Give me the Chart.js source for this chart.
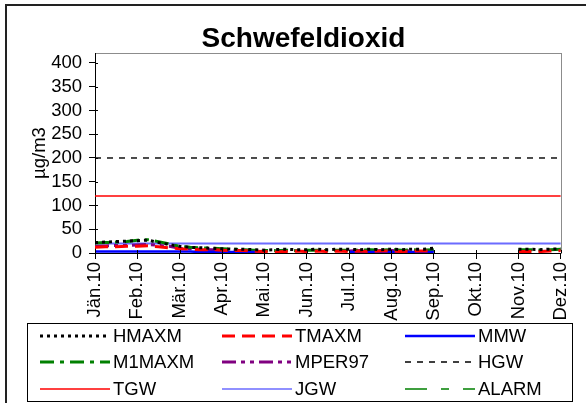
<!DOCTYPE html>
<html>
<head>
<meta charset="utf-8">
<script src="https://cdn.jsdelivr.net/npm/chart.js@4"></script>
<style>
  html, body { margin: 0; padding: 0; background: #fff; }
  #wrap { width: 586px; height: 403px; }
</style>
</head>
<body>
<div id="wrap"><canvas id="chart" width="586" height="403"></canvas></div>
<script>
// Schwefeldioxid 2010, Wochenwerte in µg/m3

const months = ['Jän.10', 'Feb.10', 'Mär.10', 'Apr.10', 'Mai.10', 'Jun.10', 'Jul.10', 'Aug.10', 'Sep.10', 'Okt.10', 'Nov.10', 'Dez.10']
const yTicks = [0, 50, 100, 150, 200, 250, 300, 350, 400]

// one value per week (4 per month), Jän.10 .. Dez.10
const hmaxm  = [22, 23, 24, 25,  26, 27, 22, 18,  14, 12, 11, 10,  9, 8, 8, 7,  6, 7, 8, 7,  7, 8, 7, 8,  8, 7, 8, 7,  8, 7, 8, 8,  10, null, null, null,  null, null, null, null,  8, 8, 7, 8,  9]
const tmaxm  = [12, 13, 13, 14,  14, 15, 13, 11,  9, 8, 7, 7,  6, 5, 5, 4,  3, 2, 3, 4,  3, 4, 3, 4,  3, 4, 3, 4,  4, 3, 4, 4,  4, null, null, null,  null, null, null, null,  3, 3, 3, 4,  5]
const mmw    = [3, 3, 3, 3,  3, 3, 3, 3,  3, 3, 2, 2,  2, 2, 2, 2,  2, null, null, null,  null, null, null, null,  2, 2, 2, 2,  2, 2, 2, 2,  2, null, null, null,  null, null, null, null,  null, null, null, null,  null]
const m1maxm = [21, 22, 23, 24,  27, 28, 24, 19,  14, 12, 11, 10,  9, 8, 7, 6,  5, 5, 6, 5,  6, 6, 5, 6,  6, 6, 7, 6,  7, 6, 7, 6,  7, null, null, null,  null, null, null, null,  7, 7, 6, 7,  8]
const mper97 = [14, 15, 16, 16,  17, 18, 16, 14,  10, 9, 8, 7,  6, 6, 5, 5,  4, null, null, null,  null, null, null, null,  4, 5, 4, 5,  5, 4, 5, 4,  5, null, null, null,  null, null, null, null,  null, null, null, null,  null]

// Grenzwerte
const HGW   = 200
const TGW   = 120
const JGW   = 20
const ALARM = 500

const FONT = "'Liberation Sans', Arial, sans-serif"

const toPoints = (values) => values.map((v, i) => ({ x : i / 4, y : v }))
const flat     = (value) => [{ x : 0, y : value }, { x : months.length - 1, y : value }]

const series = (label, data, color, width, dash, legendWidth = width) => ({
	label           : label,
	data            : data,
	borderColor     : color,
	backgroundColor : color,
	borderWidth     : width,
	borderDash      : dash,
	legendWidth     : legendWidth,
	pointRadius     : 0,
	spanGaps        : false,
	fill            : false,
	tension         : 0,
})

const datasets = [
	series('HMAXM',  toPoints(hmaxm),  '#000000', 3,   [3, 4]),
	series('TMAXM',  toPoints(tmaxm),  '#ff0000', 3,   [13, 7]),
	series('MMW',    toPoints(mmw),    '#0000ff', 2.5, []),
	series('M1MAXM', toPoints(m1maxm), '#008000', 3,   [14, 6, 4, 6]),
	series('MPER97', toPoints(mper97), '#800080', 3,   [14, 5, 4, 5, 4, 5]),
	series('HGW',    flat(HGW),        '#000000', 1.4, [6, 6], 1.5),
	series('TGW',    flat(TGW),        '#ff0000', 1.4, [], 1.5),
	series('JGW',    flat(JGW),        '#6b6bff', 2,   [], 1.5),
	series('ALARM',  flat(ALARM),      '#008000', 1,   [22, 14, 8, 14], 1.5),
]

// frame, background and grey plot border
const framePlugin = {
	id : 'frame',
	beforeDraw : (chart) => {
		const { ctx, chartArea : a } = chart
		ctx.save()
		ctx.fillStyle = '#fff'
		ctx.fillRect(0, 0, chart.width, chart.height)
		ctx.strokeStyle = '#222'
		ctx.lineWidth   = 2
		ctx.strokeRect(6, 5, chart.width + 10, chart.height + 10)
		ctx.strokeStyle = '#8c8c8c'
		ctx.lineWidth   = 1
		ctx.strokeRect(Math.round(a.left) + 0.5, Math.round(a.top) + 0.5, Math.round(a.right - a.left), Math.round(a.bottom - a.top))
		ctx.restore()
	},
	// short inner part of the tick marks, like the Excel axes
	afterDraw : (chart) => {
		const { ctx, chartArea : a, scales } = chart
		ctx.save()
		ctx.strokeStyle = '#000'
		ctx.lineWidth   = 1
		ctx.beginPath()
		scales.y.ticks.forEach((t) => {
			const py = Math.round(scales.y.getPixelForValue(t.value)) + 0.5
			ctx.moveTo(a.left, py)
			ctx.lineTo(a.left + 3, py)
		})
		scales.x.ticks.forEach((t) => {
			const px = Math.round(scales.x.getPixelForValue(t.value)) + 0.5
			ctx.moveTo(px, a.bottom)
			ctx.lineTo(px, a.bottom - 3)
		})
		ctx.stroke()
		ctx.restore()
	},
}

// Excel-like legend box: 3 columns, 3 rows
const legendPlugin = {
	id : 'boxLegend',
	afterDraw : (chart) => {
		const { ctx } = chart
		const colX  = [40, 222, 405]
		const rowY  = [336, 362, 389]
		ctx.save()
		ctx.strokeStyle = '#000'
		ctx.lineWidth   = 1
		ctx.strokeRect(27.5, 323.5, 545, 78)
		ctx.font         = `18.5px ${FONT}`
		ctx.textBaseline = 'middle'
		ctx.fillStyle    = '#000'
		chart.data.datasets.forEach((ds, i) => {
			const x = colX[i % 3]
			const y = rowY[Math.floor(i / 3)]
			ctx.save()
			ctx.strokeStyle = ds.borderColor
			ctx.lineWidth   = ds.legendWidth
			ctx.setLineDash(ds.borderDash)
			ctx.beginPath()
			ctx.moveTo(x, y)
			ctx.lineTo(x + 70, y)
			ctx.stroke()
			ctx.restore()
			ctx.fillText(ds.label, x + 73, y + 1)
		})
		ctx.restore()
	},
}

new Chart(document.getElementById('chart'), {
	type    : 'line',
	data    : { datasets : datasets },
	plugins : [framePlugin, legendPlugin],
	options : {
		responsive : false,
		animation  : false,
		layout     : { padding : { left : 27, right : 6, top : 0, bottom : 80 } },
		plugins    : {
			legend  : { display : false },
			tooltip : { enabled : false },
			title   : {
				display : true,
				text    : 'Schwefeldioxid',
				color   : '#000',
				font    : { family : FONT, size : 28, weight : 'bold', lineHeight : 1 },
				padding : { top : 25, bottom : 0 },
			},
		},
		scales : {
			x : {
				type  : 'linear',
				min   : 0,
				max   : months.length - 1,
				afterBuildTicks : (scale) => { scale.ticks = months.map((m, i) => ({ value : i })) },
				afterFit : (scale) => { scale.height = 70 },
				ticks : {
					autoSkip    : false,
					minRotation : 90,
					maxRotation : 90,
					padding     : 3,
					color       : '#000',
					font        : { family : FONT, size : 18.5 },
					callback    : (v) => months[v],
				},
				grid   : { drawOnChartArea : false, tickLength : 6, color : '#000' },
				border : { color : '#000', width : 1 },
			},
			y : {
				min : 0,
				max : 421,
				afterBuildTicks : (scale) => { scale.ticks = yTicks.map((v) => ({ value : v })) },
				afterFit : (scale) => { scale.width = 68 },
				ticks : {
					autoSkip : false,
					padding  : 7,
					color    : '#000',
					font     : { family : FONT, size : 18.5 },
				},
				grid   : { drawOnChartArea : false, tickLength : 6, color : '#000' },
				border : { color : '#000', width : 1 },
				title  : {
					display : true,
					text    : 'µg/m3',
					color   : '#000',
					font    : { family : FONT, size : 18.5 },
					padding : { top : 2, bottom : 0 },
				},
			},
		},
	},
})
</script>
</body>
</html>
